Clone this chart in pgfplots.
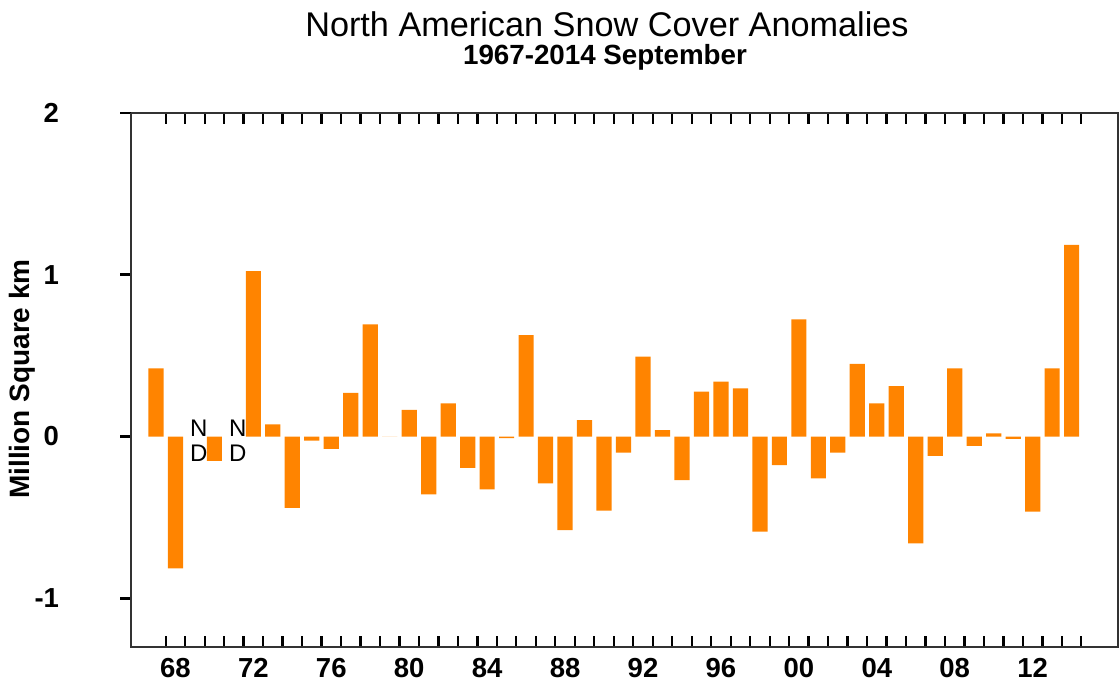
\documentclass[border=0pt]{standalone}
\usepackage{fontspec}
\setmainfont{Liberation Sans}
\usepackage{pgfplots}
\pgfplotsset{compat=1.18}
\definecolor{barorange}{RGB}{255,132,0}
\pgfplotstableread{
year value
1967 0.421
1968 -0.814
1970 -0.151
1972 1.022
1973 0.075
1974 -0.440
1975 -0.025
1976 -0.077
1977 0.270
1978 0.693
1979 0.000
1980 0.164
1981 -0.357
1982 0.205
1983 -0.193
1984 -0.326
1985 -0.010
1986 0.627
1987 -0.289
1988 -0.578
1989 0.102
1990 -0.458
1991 -0.100
1992 0.493
1993 0.040
1994 -0.269
1995 0.277
1996 0.339
1997 0.298
1998 -0.588
1999 -0.176
2000 0.724
2001 -0.258
2002 -0.100
2003 0.448
2004 0.205
2005 0.312
2006 -0.660
2007 -0.120
2008 0.421
2009 -0.057
2010 0.020
2011 -0.015
2012 -0.464
2013 0.421
2014 1.183
}\snowdata
\begin{document}
\begin{tikzpicture}
\useasboundingbox (0,0) rectangle (448pt,273.6pt);
\begin{axis}[
  at={(52.4pt,14.92pt)}, anchor=south west,
  width=394.8pt, height=213.6pt, scale only axis,
  xmin=1965.72, xmax=2016.38, ymin=-1.298, ymax=2,
  axis line style={line width=0.8pt, black!80},
  ybar, bar width=0.78,
  xtick={1967.5,1968.5,...,2014.5},
  xticklabels={},
  extra x ticks={1968,1972,...,2012},
  extra x tick labels={68,72,76,80,84,88,92,96,00,04,08,12},
  extra x tick style={major tick length=0pt},
  ytick=\empty,
  tick align=inside,
  major tick length=4.4pt,
  tick style={line width=0.9pt, black},
  xticklabel style={font=\bfseries\fontsize{11}{13}\selectfont, inner sep=0pt, yshift=-4.4pt},
  clip=false,
]
\addplot[fill=barorange, draw=none] table[x=year, y=value] {\snowdata};
\node[font=\fontsize{9.6}{10}\selectfont, inner sep=0pt] at (axis cs:1969.2,0.05) {N};
\node[font=\fontsize{9.6}{10}\selectfont, inner sep=0pt] at (axis cs:1969.2,-0.105) {D};
\node[font=\fontsize{9.6}{10}\selectfont, inner sep=0pt] at (axis cs:1971.2,0.05) {N};
\node[font=\fontsize{9.6}{10}\selectfont, inner sep=0pt] at (axis cs:1971.2,-0.105) {D};
\end{axis}
\begin{axis}[
  at={(52.4pt,14.92pt)}, anchor=south west,
  width=394.8pt, height=213.6pt, scale only axis,
  xmin=1965.72, xmax=2016.38, ymin=-1.298, ymax=2,
  hide x axis,
  axis y line*=left,
  axis line style={line width=0.8pt, black!80},
  ytick={-1,0,1,2}, yticklabels={-1,0,1,2},
  tick align=outside,
  major tick length=4.4pt,
  tick style={line width=0.9pt, black},
  yticklabel style={font=\bfseries\fontsize{11}{13}\selectfont, inner sep=0pt, xshift=-24.2pt},
]
\end{axis}
\node[anchor=base, font=\fontsize{13.7}{16}\selectfont] at (242.8pt,258.8pt) {North American Snow Cover Anomalies};
\node[anchor=base, font=\bfseries\fontsize{11.1}{13}\selectfont] at (242pt,247.6pt) {1967-2014 September};
\node[rotate=90, font=\bfseries\fontsize{11.2}{13}\selectfont] at (8.8pt,122pt) {Million Square km};
\end{tikzpicture}
\end{document}
